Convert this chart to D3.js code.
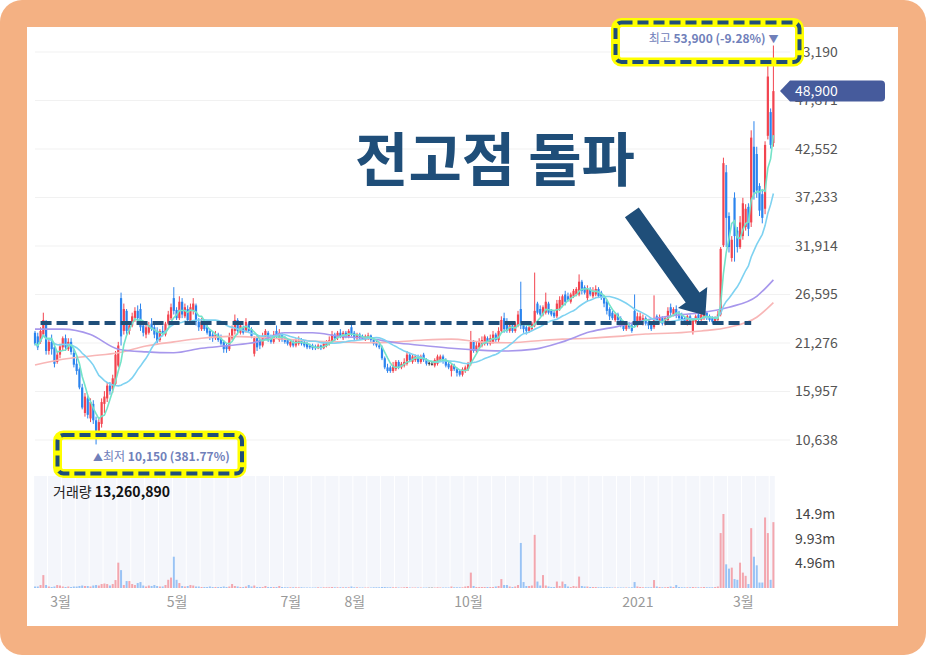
<!DOCTYPE html>
<html>
<head>
<meta charset="utf-8">
<script src="https://cdn.jsdelivr.net/npm/d3@7"></script>
<style>
body { margin: 0; background: #fff; }
svg { display: block; font-family: "Noto Sans CJK KR", "Noto Sans", sans-serif; }
</style>
</head>
<body>
<svg id="chart" width="926" height="655"></svg>
<script>
// daily candles, prices in hundreds of won
var opens = [
  224,220,214,222,234,204,214,208,192,200,
  208,218,206,214,202,190,184,164,136,152,
  130,146,128,112,124,146,152,166,162,168,
  188,262,226,248,226,232,240,248,250,232,
  222,224,234,230,226,216,226,222,234,240,
  262,249,240,258,242,250,236,248,254,236,
  228,236,230,226,222,218,222,218,214,210,
  206,218,226,238,224,230,226,234,228,201,
  218,216,210,218,224,218,214,226,216,222,
  218,216,210,214,210,212,216,214,212,210,
  210,209,207,210,207,210,212,214,222,218,
  224,218,224,220,230,224,218,222,220,216,
  218,221,216,214,210,208,196,186,186,182,
  184,192,186,188,190,200,192,194,198,192,
  200,194,191,190,188,190,194,198,194,190,
  182,188,184,182,178,182,184,190,214,204,
  208,210,212,218,212,214,222,216,226,240,
  234,226,232,226,232,250,234,230,226,228,
  232,256,250,244,246,256,248,246,242,250,
  254,266,264,258,264,266,266,280,274,262,
  272,264,266,272,268,262,258,250,246,238,
  244,240,234,228,234,232,248,232,236,236,
  240,236,234,230,242,236,240,234,238,252,
  244,250,244,242,240,234,242,226,236,244,
  238,240,246,242,240,236,238,244,320,400,
  352,306,372,336,318,330,340,362,345,428,
  420,385,376,360,440,466,432
];
var highs = [
  226,224,230,246,238,218,222,212,204,212,
  220,222,218,218,206,196,186,168,158,156,
  152,150,132,130,152,160,170,170,178,204,
  214,268,256,250,236,246,252,254,256,236,
  234,236,240,234,230,228,232,236,248,256,
  274,252,264,262,256,254,256,262,256,240,
  240,238,234,228,226,226,224,222,216,212,
  224,232,244,240,236,232,240,236,230,220,
  222,220,224,228,226,222,226,232,228,224,
  220,218,216,216,218,220,218,216,214,212,
  212,211,212,211,214,216,220,226,224,226,
  228,226,226,228,234,226,224,224,222,222,
  224,222,218,216,214,210,198,190,188,192,
  194,194,192,196,204,202,200,200,200,200,
  202,196,193,192,196,200,200,200,196,192,
  190,190,186,184,186,188,192,226,216,214,
  218,220,222,220,222,226,224,230,242,246,
  240,236,234,236,248,280,236,232,234,236,
  290,258,254,254,268,258,250,248,260,264,
  266,270,268,268,272,274,288,282,276,276,
  274,274,276,274,270,264,260,252,248,246,
  246,242,236,236,236,234,266,246,246,244,
  242,238,236,265,244,244,242,242,252,256,
  252,254,248,246,242,244,244,240,244,246,
  246,250,248,244,242,242,248,318,416,408,
  356,330,378,340,352,372,365,366,446,456,
  428,388,380,434,522,470,539
];
var lows = [
  210,205,212,220,200,200,200,186,190,196,
  205,204,204,200,186,178,162,140,132,130,
  126,124,101.5,108,120,136,148,156,158,166,
  186,210,222,222,222,230,236,236,226,220,
  218,222,226,218,212,214,220,220,232,238,
  244,238,238,240,240,236,234,244,232,226,
  226,226,222,216,214,216,214,210,202,202,
  204,216,222,222,222,222,224,224,218,198,
  204,206,208,216,214,212,212,218,214,214,
  212,210,208,208,208,210,210,208,206,206,
  205,205,206,205,206,208,210,212,214,216,
  218,216,218,218,220,216,216,216,216,215,
  216,214,210,208,206,194,184,180,180,180,
  182,184,184,186,188,192,190,192,190,190,
  192,188,188,188,186,188,192,190,186,184,
  176,182,176,176,176,180,182,188,202,202,
  206,208,210,210,210,212,214,214,224,224,
  224,224,224,224,230,228,224,222,224,226,
  230,244,242,242,244,244,242,240,240,248,
  252,254,258,256,262,264,264,266,266,258,
  264,262,264,262,260,252,244,238,238,236,
  236,230,226,226,228,224,230,230,234,232,
  232,228,226,228,236,234,232,232,236,242,
  242,240,238,236,234,232,234,222,234,236,
  236,238,238,236,234,234,236,242,318,318,
  312,302,302,312,316,326,336,330,340,370,
  372,352,344,354,436,426,428
];
var closes = [
  212,208,226,238,204,214,206,190,200,209,
  218,208,214,203,189,182,164,142,154,134,
  148,128,112,126,148,154,166,160,174,200,
  210,220,250,226,232,242,248,240,230,224,
  230,232,228,222,214,226,224,234,244,252,
  248,240,258,244,252,238,252,256,236,230,
  236,228,224,220,218,222,216,212,206,206,
  220,228,238,226,232,224,236,226,220,218,
  208,210,220,226,216,214,222,220,224,216,
  214,212,214,210,216,216,212,210,208,208,
  207,207,210,207,212,214,216,222,218,224,
  220,224,220,226,222,218,222,218,217,220,
  221,216,212,210,208,196,186,182,182,188,
  192,186,190,192,200,194,198,198,192,198,
  194,190,191,190,194,198,198,192,188,186,
  188,184,180,178,184,186,190,214,204,210,
  214,216,220,212,218,222,216,226,238,228,
  226,232,226,234,244,232,228,226,230,234,
  248,246,244,252,258,246,244,242,256,260,
  264,258,260,266,270,272,280,270,268,272,
  266,270,272,264,262,256,248,242,240,244,
  238,232,228,234,230,226,234,242,242,240,
  234,232,228,240,238,240,234,240,248,246,
  250,244,240,238,236,242,236,238,242,238,
  244,246,240,238,236,240,244,316,410,350,
  318,326,330,318,345,366,360,338,438,378,
  380,358,350,430,505,430,489
];
// volume in millions of shares
var volumes = [
  0.3,0.3,0.6,2.6,0.6,0.3,0.2,0.3,0.6,0.5,
  0.3,0.2,0.3,0.2,0.3,0.3,0.4,0.5,0.4,0.4,
  0.3,0.5,0.6,0.5,0.8,0.9,0.8,0.5,0.8,1.6,
  5.1,3.6,0.6,1.4,1.4,0.8,0.6,1.0,1.2,0.5,
  0.3,0.5,0.4,0.6,0.4,0.3,0.3,0.6,1.65,2.1,
  6.3,1.65,1.0,0.4,0.3,0.4,0.6,0.5,0.3,0.3,
  0.2,0.2,0.2,0.3,0.2,0.2,0.2,0.2,0.3,0.2,
  0.3,0.8,0.4,0.3,0.2,0.2,0.3,0.6,0.3,0.5,
  0.2,0.2,0.2,0.4,0.2,0.2,0.2,0.2,0.4,0.2,
  0.15,0.15,0.15,0.15,0.15,0.15,0.15,0.1,0.1,0.1,
  0.1,0.1,0.15,0.1,0.15,0.15,0.15,0.2,0.15,0.15,
  0.15,0.15,0.15,0.15,0.3,0.15,0.15,0.1,0.1,0.1,
  0.1,0.1,0.15,0.15,0.15,0.2,0.2,0.15,0.15,0.15,
  0.15,0.1,0.1,0.15,0.2,0.1,0.1,0.1,0.1,0.1,
  0.1,0.1,0.1,0.1,0.1,0.15,0.1,0.1,0.1,0.1,
  0.3,0.15,0.15,0.15,0.15,0.3,0.4,3.1,0.4,0.2,
  0.2,0.2,0.2,0.2,0.2,0.2,0.3,0.4,1.8,0.6,
  0.6,0.3,0.2,0.3,0.6,9.07,1.2,0.4,0.4,0.5,
  10.7,1.3,0.5,2.6,0.5,0.3,0.2,0.2,1.3,0.4,
  1.3,0.8,0.3,0.2,0.4,0.3,2.3,0.4,0.3,0.3,
  0.2,0.2,0.2,0.15,0.15,0.15,0.15,0.15,0.1,0.1,
  0.1,0.1,0.1,0.1,0.1,0.15,1.2,0.3,0.2,0.15,
  0.15,0.15,0.15,1.6,0.3,0.2,0.15,0.15,0.2,0.3,
  0.2,0.6,0.2,0.15,0.15,0.15,0.15,0.2,0.15,0.15,
  0.15,0.2,0.15,0.15,0.15,0.2,0.3,11.06,14.9,4.77,
  3.9,4.1,1.8,1.65,5.1,3.1,2.45,0.8,12.05,6.3,
  4.57,1.1,1.1,14.2,11.06,1.65,13.26089
];
// long moving averages (hundreds of won) at these candle indices
var maIdx = [0,10,20,30,40,50,60,70,80,90,100,110,120,130,140,150,160,170,180,190,200,210,220,230,240,250,260,266];
var ma60 = [228,228,222,206,203,202,207,210,214,224,224,220,218,213,210,207,205,204,206,214,225,231,238,243,246,252,264,282];
var ma120 = [188.6,195,198.5,202,209.5,214,218,220,219,217,215,214,213,214,216,217,214,213,215,217,218,220,222.6,223.7,226,230,241,257];

var monthIdx = [9, 51, 92, 115, 156, 217, 255];
var monthLabels = ["3월", "5월", "7월", "8월", "10월", "2021", "3월"];
var priceTicks = [10638, 15957, 21276, 26595, 31914, 37233, 42552, 47871, 53190];
var volTicks = [4.96, 9.93, 14.9];

var breakLevel = 23470;          // 전고점 (won)
var breakSpan = [2, 258];        // candle indices of the dashed line
var arrowFrom = [215, 35600], arrowTo = [241.5, 24300];

var N = closes.length;
var upColor = "#F2444F", downColor = "#2B84EE", flatColor = "#333";
var navy = "#1F4E79";

var svg = d3.select("#chart");
var x = d3.scaleLinear().domain([0, N - 1]).range([35, 773.4]);
var y = d3.scaleLinear().domain([10638, 53190]).range([440, 52]);
var yv = d3.scaleLinear().domain([0, 14.9]).range([588, 514]);
var step = x(1) - x(0);
var fmt = d3.format(",");

function dir(i) {
    return closes[i] > opens[i] ? upColor : (closes[i] < opens[i] ? downColor : flatColor);
}
function movingAvg(arr, n) {
    return arr.map(function (d, i) { return d3.mean(arr.slice(Math.max(0, i - n + 1), i + 1)); });
}

// frame
svg.append("rect").attr("width", 926).attr("height", 655).attr("rx", 22).attr("fill", "#F4B183");
svg.append("rect").attr("x", 27).attr("y", 27).attr("width", 871).attr("height", 599).attr("fill", "#fff");

// price grid
svg.append("g").selectAll("line").data(priceTicks).enter().append("line")
    .attr("x1", 35).attr("x2", 790)
    .attr("y1", function (d) { return y(d); }).attr("y2", function (d) { return y(d); })
    .attr("stroke", "#F1F1F1").attr("stroke-width", 1);

// volume background
svg.append("rect").attr("x", x(0) - step / 2).attr("y", 476)
    .attr("width", x(N - 1) - x(0) + step).attr("height", 112).attr("fill", "#F4F6FB");
svg.append("g").selectAll("line").data(d3.range(0, N, 5)).enter().append("line")
    .attr("x1", function (d) { return x(d) - step / 2; }).attr("x2", function (d) { return x(d) - step / 2; })
    .attr("y1", 476).attr("y2", 588).attr("stroke", "#fff").attr("stroke-width", 1);

// volume bars
svg.append("g").selectAll("rect").data(volumes).enter().append("rect")
    .attr("x", function (d, i) { return x(i) - 1; })
    .attr("width", 2)
    .attr("y", function (d) { return yv(d); })
    .attr("height", function (d) { return yv(0) - yv(d); })
    .attr("fill", function (d, i) { return dir(i); })
    .attr("opacity", 0.45);

// candles
var cg = svg.append("g");
cg.selectAll("line").data(closes).enter().append("line")
    .attr("x1", function (d, i) { return x(i); }).attr("x2", function (d, i) { return x(i); })
    .attr("y1", function (d, i) { return y(highs[i] * 100); })
    .attr("y2", function (d, i) { return y(lows[i] * 100); })
    .attr("stroke", function (d, i) { return dir(i); }).attr("stroke-width", 1);
cg.selectAll("rect").data(closes).enter().append("rect")
    .attr("x", function (d, i) { return x(i) - 1.1; })
    .attr("width", 2.2)
    .attr("y", function (d, i) { return y(Math.max(opens[i], d) * 100); })
    .attr("height", function (d, i) { return Math.max(1, Math.abs(y(opens[i] * 100) - y(d * 100))); })
    .attr("fill", function (d, i) { return dir(i); });

// moving averages
var line = d3.line().x(function (d) { return x(d[0]); }).y(function (d) { return y(d[1] * 100); });
var ma5 = movingAvg(closes, 5), ma20 = movingAvg(closes, 20);
var maSeries = [
    { pts: maIdx.map(function (d, k) { return [d, ma120[k]]; }), color: "#F8B6B6", curve: d3.curveMonotoneX },
    { pts: maIdx.map(function (d, k) { return [d, ma60[k]]; }), color: "#A797EC", curve: d3.curveMonotoneX },
    { pts: ma20.map(function (d, i) { return [i, d]; }), color: "#7ED2F1", curve: d3.curveLinear },
    { pts: ma5.map(function (d, i) { return [i, d]; }), color: "#74E3C8", curve: d3.curveLinear }
];
maSeries.forEach(function (s) {
    svg.append("path").attr("d", line.curve(s.curve)(s.pts))
        .attr("fill", "none").attr("stroke", s.color).attr("stroke-width", 1.6);
});

// resistance line
svg.append("line")
    .attr("x1", x(breakSpan[0])).attr("x2", x(breakSpan[1]))
    .attr("y1", y(breakLevel)).attr("y2", y(breakLevel))
    .attr("stroke", navy).attr("stroke-width", 4).attr("stroke-dasharray", "11,5");

// price axis labels
var ya = svg.append("g").attr("transform", "translate(795,0)")
    .call(d3.axisRight(y).tickValues(priceTicks).tickFormat(fmt).tickSize(0).tickPadding(0));
ya.select(".domain").remove();
ya.selectAll("text").attr("font-size", 14).attr("fill", "#555").attr("font-family", "Noto Sans CJK KR");

// volume axis labels
var va = svg.append("g").attr("transform", "translate(795,0)")
    .call(d3.axisRight(yv).tickValues(volTicks).tickFormat(function (d) { return d + "m"; }).tickSize(0).tickPadding(0));
va.select(".domain").remove();
va.selectAll("text").attr("font-size", 14).attr("fill", "#444").attr("font-family", "Noto Sans CJK KR");

// month axis
var xa = svg.append("g").attr("transform", "translate(0,597)")
    .call(d3.axisBottom(x).tickValues(monthIdx).tickFormat(function (d, i) { return monthLabels[i]; }).tickSize(0).tickPadding(0));
xa.select(".domain").remove();
xa.selectAll("text").attr("font-size", 14).attr("fill", "#999").attr("font-family", "Noto Sans CJK KR");

// last price tag
var lastV = closes[N - 1] * 100, ly = y(lastV);
svg.append("path")
    .attr("d", "M780," + ly + " L790," + (ly - 10.5) + " L881," + (ly - 10.5) +
        " Q885," + (ly - 10.5) + " 885," + (ly - 6.5) + " L885," + (ly + 6.5) +
        " Q885," + (ly + 10.5) + " 881," + (ly + 10.5) + " L790," + (ly + 10.5) + " Z")
    .attr("fill", "#465B9C");
svg.append("text").attr("x", 795).attr("y", ly).attr("dy", "0.35em")
    .attr("font-size", 14).attr("fill", "#fff").text(fmt(lastV));

// volume caption
var vt = svg.append("text").attr("x", 53).attr("y", 497).attr("font-size", 14).attr("fill", "#222");
vt.append("tspan").text("거래량 ");
vt.append("tspan").attr("font-weight", "bold").attr("fill", "#111")
    .text(fmt(Math.round(volumes[N - 1] * 1e6)));

// high / low markers
var hiI = d3.maxIndex(highs), loI = d3.minIndex(lows);
var hiV = highs[hiI] * 100, loV = lows[loI] * 100;
var hiT = svg.append("text").attr("x", x(hiI) + 5).attr("y", y(hiV) - 3)
    .attr("text-anchor", "end").attr("font-size", 12).attr("fill", "#7080BA");
hiT.append("tspan").text("최고 ");
hiT.append("tspan").attr("font-weight", "bold")
    .text(fmt(hiV) + " (" + ((lastV / hiV - 1) * 100).toFixed(2) + "%) ");
hiT.append("tspan").attr("font-size", 10).text("▼");

var loT = svg.append("text").attr("x", x(loI) - 3).attr("y", y(loV) + 17)
    .attr("font-size", 12).attr("fill", "#7080BA");
loT.append("tspan").attr("font-size", 10).text("▲");
loT.append("tspan").text("최저 ");
loT.append("tspan").attr("font-weight", "bold")
    .text(fmt(loV) + " (" + ((lastV / loV - 1) * 100).toFixed(2) + "%)");

// highlight boxes
function hiBox(x0, y0, x1, y1) {
    svg.append("rect").attr("x", x0).attr("y", y0).attr("width", x1 - x0).attr("height", y1 - y0)
        .attr("rx", 6).attr("fill", "none").attr("stroke", "#FFFF00").attr("stroke-width", 9);
    svg.append("rect").attr("x", x0).attr("y", y0).attr("width", x1 - x0).attr("height", y1 - y0)
        .attr("rx", 6).attr("fill", "none").attr("stroke", navy).attr("stroke-width", 4)
        .attr("stroke-dasharray", "11,5");
}
hiBox(615.5, 22.5, 799.5, 62);
hiBox(57.5, 435, 242, 473.5);

// title
svg.append("text").attr("x", 495).attr("y", 181).attr("text-anchor", "middle")
    .attr("font-size", 58).attr("font-weight", "bold").attr("fill", navy).text("전고점 돌파");

// arrow
var ax0 = x(arrowFrom[0]), ay0 = y(arrowFrom[1]), ax1 = x(arrowTo[0]), ay1 = y(arrowTo[1]);
var len = Math.hypot(ax1 - ax0, ay1 - ay0), ux = (ax1 - ax0) / len, uy = (ay1 - ay0) / len;
var px = -uy, py = ux, sw = 8.5, hw = 18, hl = 22;
var bx = ax1 - ux * hl, by = ay1 - uy * hl;
var pts = [
    [ax0 + px * sw, ay0 + py * sw], [bx + px * sw, by + py * sw], [bx + px * hw, by + py * hw],
    [ax1, ay1], [bx - px * hw, by - py * hw], [bx - px * sw, by - py * sw], [ax0 - px * sw, ay0 - py * sw]
];
svg.append("polygon").attr("points", pts.map(function (p) { return p.join(","); }).join(" "))
    .attr("fill", navy);
</script>
</body>
</html>
